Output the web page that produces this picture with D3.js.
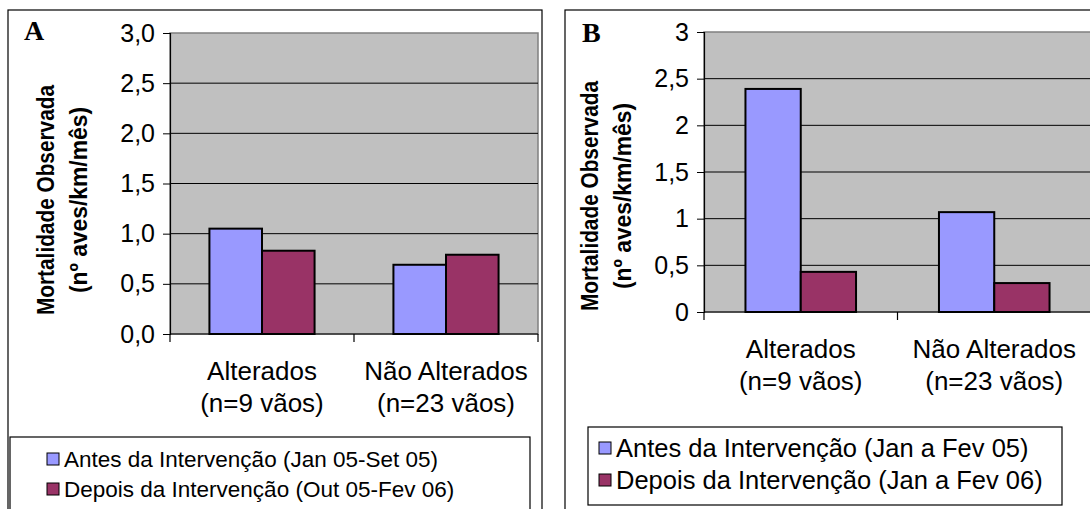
<!DOCTYPE html>
<html>
<head>
<meta charset="utf-8">
<script src="https://cdn.jsdelivr.net/npm/d3@7"></script>
<style>
  body { margin: 0; background: #fff; }
  svg { display: block; font-family: Arial, "Liberation Sans", sans-serif; }
</style>
</head>
<body>
<svg id="chart" width="1090" height="509"></svg>
<script>
// dados
var categorias = ["Alterados|(n=9 vãos)", "Não Alterados|(n=23 vãos)"];
var series = ["antes", "depois"];
var cores = ["#9999FF", "#993366"];

var antesA  = [1.05, 0.69];
var depoisA = [0.83, 0.79];
var legendaA = ["Antes da Intervenção (Jan 05-Set 05)", "Depois da Intervenção (Out 05-Fev 06)"];
var ticksA = [0, 0.5, 1, 1.5, 2, 2.5, 3];
var ticksLabelsA = ["0,0", "0,5", "1,0", "1,5", "2,0", "2,5", "3,0"];

var antesB  = [2.39, 1.07];
var depoisB = [0.43, 0.31];
var legendaB = ["Antes da Intervenção (Jan a Fev 05)", "Depois da Intervenção (Jan a Fev 06)"];
var ticksB = [0, 0.5, 1, 1.5, 2, 2.5, 3];
var ticksLabelsB = ["0", "0,5", "1", "1,5", "2", "2,5", "3"];

var tituloY = ["Mortalidade Observada", "(nº aves/km/mês)"];

var svg = d3.select("#chart");

function drawPanel(p) {
  var g = svg.append("g");

  // moldura do painel
  g.append("rect")
    .attr("x", p.frame[0]).attr("y", p.frame[1])
    .attr("width", p.frame[2]).attr("height", p.frame[3])
    .attr("fill", "#fff").attr("stroke", "#000").attr("stroke-width", 1.2);

  var width = p.plot.right - p.plot.left;
  var height = p.plot.bottom - p.plot.top;

  var x0 = d3.scaleBand().domain(categorias).range([p.plot.left, p.plot.right]);
  var x1 = d3.scaleBand().domain(series).range([0, x0.bandwidth()])
    .paddingInner(0).paddingOuter(0.75);
  var y = d3.scaleLinear().domain([0, 3]).range([p.plot.bottom, p.plot.top]);

  // área do gráfico
  g.append("rect")
    .attr("x", p.plot.left).attr("y", p.plot.top)
    .attr("width", width).attr("height", height)
    .attr("fill", "#C0C0C0").attr("stroke", "#808080").attr("stroke-width", 1.5);

  // linhas de grade
  g.append("g")
    .selectAll("line")
    .data(p.ticks.slice(1, -1))
    .enter().append("line")
    .attr("x1", p.plot.left).attr("x2", p.plot.right)
    .attr("y1", function(d){ return y(d); })
    .attr("y2", function(d){ return y(d); })
    .attr("stroke", "#000").attr("stroke-width", 1);

  // eixo y
  var yAxis = d3.axisLeft(y)
    .tickValues(p.ticks)
    .tickSize(7)
    .tickPadding(8)
    .tickFormat(function(d, i){ return p.tickLabels[i]; });

  var ya = g.append("g")
    .attr("transform", "translate(" + p.plot.left + ",0)")
    .call(yAxis);
  ya.select(".domain").attr("stroke", "#000").attr("stroke-width", 1.2);
  ya.selectAll("text")
    .attr("font-size", 25).attr("fill", "#000")
    .attr("font-family", "Arial, 'Liberation Sans', sans-serif");

  // eixo x: marcas nas divisões entre categorias
  var divs = [p.plot.left].concat(categorias.map(function(c){ return x0(c) + x0.bandwidth(); }));
  g.append("line")
    .attr("x1", p.plot.left).attr("x2", p.plot.right)
    .attr("y1", p.plot.bottom).attr("y2", p.plot.bottom)
    .attr("stroke", "#000").attr("stroke-width", 1.2);
  g.selectAll(".xtick")
    .data(divs)
    .enter().append("line")
    .attr("class", "xtick")
    .attr("x1", function(d){ return d; }).attr("x2", function(d){ return d; })
    .attr("y1", p.plot.bottom).attr("y2", p.plot.bottom + 8)
    .attr("stroke", "#000").attr("stroke-width", 1.2);

  // barras
  var valores = [p.antes, p.depois];
  var grupos = g.selectAll(".grupo")
    .data(categorias)
    .enter().append("g")
    .attr("class", "grupo")
    .attr("transform", function(d){ return "translate(" + x0(d) + ",0)"; });

  grupos.selectAll("rect")
    .data(function(d, i){ return series.map(function(s, j){ return { s: s, v: valores[j][i], j: j }; }); })
    .enter().append("rect")
    .attr("x", function(d){ return x1(d.s); })
    .attr("width", x1.bandwidth())
    .attr("y", function(d){ return y(d.v); })
    .attr("height", function(d){ return y(0) - y(d.v); })
    .attr("fill", function(d){ return cores[d.j]; })
    .attr("stroke", "#000").attr("stroke-width", 2);

  // rótulos das categorias
  categorias.forEach(function(c){
    var linhas = c.split("|");
    var cx = x0(c) + x0.bandwidth() / 2;
    linhas.forEach(function(t, k){
      g.append("text")
        .attr("x", cx).attr("y", p.catY + k * 32)
        .attr("text-anchor", "middle")
        .attr("font-size", 26)
        .text(t);
    });
  });

  // título do eixo y (letras mais altas, comprimento fixo)
  var comp = [230, 186];
  tituloY.forEach(function(t, k){
    g.append("text")
      .attr("transform", "translate(" + (p.titleX + k * 33) + "," + p.titleY + ") rotate(-90)")
      .attr("text-anchor", "middle")
      .attr("font-size", 24)
      .attr("font-weight", "bold")
      .attr("textLength", comp[k])
      .attr("lengthAdjust", "spacingAndGlyphs")
      .text(t);
  });

  // letra do painel
  g.append("text")
    .attr("x", p.letter[0]).attr("y", p.letter[1])
    .attr("font-family", "'Times New Roman', 'Liberation Serif', serif")
    .attr("font-weight", "bold")
    .attr("font-size", 28)
    .text(p.letra);

  // legenda
  g.append("rect")
    .attr("x", p.legend.x).attr("y", p.legend.y)
    .attr("width", p.legend.w).attr("height", p.legend.h)
    .attr("fill", "#fff").attr("stroke", "#000").attr("stroke-width", 1.2);

  p.legenda.forEach(function(t, k){
    var ly = p.legend.y + p.legend.first + k * p.legend.step;
    g.append("rect")
      .attr("x", p.legend.sx).attr("y", ly - 6)
      .attr("width", 12).attr("height", 12)
      .attr("fill", cores[k]).attr("stroke", "#000").attr("stroke-width", 1);
    g.append("text")
      .attr("x", p.legend.sx + 17).attr("y", ly)
      .attr("dy", "0.35em")
      .attr("font-size", p.legend.fs)
      .text(t);
  });
}

drawPanel({
  letra: "A",
  letter: [24, 40],
  frame: [8, 10, 534, 520],
  plot: { left: 170, right: 538, top: 33, bottom: 334 },
  ticks: ticksA, tickLabels: ticksLabelsA,
  antes: antesA, depois: depoisA,
  catY: 380,
  titleX: 54, titleY: 200,
  legenda: legendaA,
  legend: { x: 10, y: 437, w: 520, h: 90, first: 22, step: 30, sx: 47, fs: 22.5 }
});

drawPanel({
  letra: "B",
  letter: [582, 42],
  frame: [565, 10, 560, 520],
  plot: { left: 704, right: 1091, top: 32, bottom: 312 },
  ticks: ticksB, tickLabels: ticksLabelsB,
  antes: antesB, depois: depoisB,
  catY: 358,
  titleX: 598, titleY: 196,
  legenda: legendaB,
  legend: { x: 588, y: 427, w: 474, h: 78, first: 21, step: 32, sx: 599, fs: 25.5 }
});
</script>
</body>
</html>
